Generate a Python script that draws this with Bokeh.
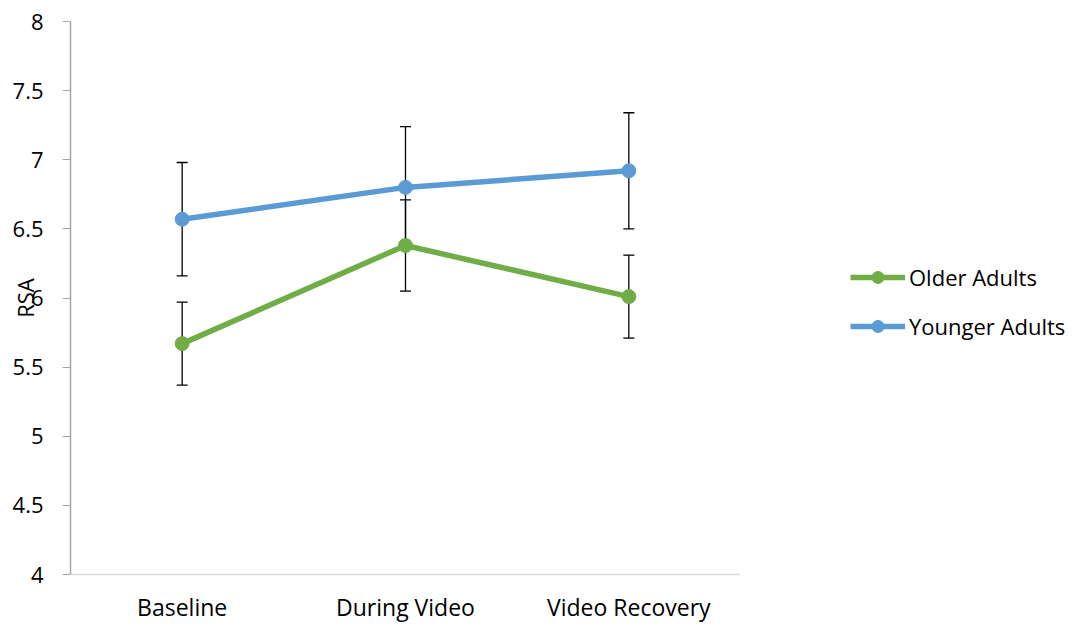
from bokeh.plotting import figure
from bokeh.layouts import row
from bokeh.models import (ColumnDataSource, Whisker, Legend, LegendItem, FixedTicker,
                          NumeralTickFormatter, TeeHead)
from bokeh.embed import file_html
from bokeh.resources import INLINE

categories = ["Baseline", "During Video", "Video Recovery"]
older = [5.67, 6.38, 6.01]
older_err = [0.30, 0.33, 0.30]
younger = [6.57, 6.80, 6.92]
younger_err = [0.41, 0.44, 0.42]
y_ticks = [4, 4.5, 5, 5.5, 6, 6.5, 7, 7.5, 8]
series_names = ["Older Adults", "Younger Adults"]

GREEN = "#70AD47"
BLUE = "#5B9BD5"
FONT = "Open Sans"
TXT = "#000000"

p = figure(x_range=categories, y_range=(4, 8), width=740, height=626,
           output_backend="svg", toolbar_location=None,
           min_border_left=70, min_border_right=0, min_border_top=21, min_border_bottom=52)
p.outline_line_color = None
p.xgrid.visible = False
p.ygrid.visible = False

for vals, errs in [(older, older_err), (younger, younger_err)]:
    src = ColumnDataSource(dict(x=categories, y=vals,
                                lo=[v - e for v, e in zip(vals, errs)],
                                hi=[v + e for v, e in zip(vals, errs)]))
    w = Whisker(source=src, base="x", lower="lo", upper="hi", line_color="black", line_width=1.3,
                upper_head=TeeHead(size=11, line_color="black", line_width=1.3),
                lower_head=TeeHead(size=11, line_color="black", line_width=1.3))
    p.add_layout(w)

p.line(categories, older, line_color=GREEN, line_width=5.5)
p.scatter(categories, older, size=14, fill_color=GREEN, line_color=GREEN)
p.line(categories, younger, line_color=BLUE, line_width=5.5)
p.scatter(categories, younger, size=14, fill_color=BLUE, line_color=BLUE)

# Y axis
ya = p.yaxis[0]
ya.ticker = FixedTicker(ticks=y_ticks)
ya.formatter = NumeralTickFormatter(format="0.[0]")
ya.axis_line_color = "#A6A6A6"
ya.axis_line_width = 1.5
ya.major_tick_line_color = "#A6A6A6"
ya.major_tick_line_width = 1.2
ya.major_tick_out = 8
ya.major_tick_in = 0
ya.minor_tick_line_color = None
ya.major_label_text_font = FONT
ya.major_label_text_font_size = "22px"
ya.major_label_text_color = TXT
ya.major_label_standoff = 19
ya.axis_label = "RSA"
ya.axis_label_text_font = FONT
ya.axis_label_text_font_size = "22px"
ya.axis_label_text_font_style = "normal"
ya.axis_label_text_color = TXT
ya.axis_label_standoff = -30

# X axis
xa = p.xaxis[0]
xa.axis_line_color = "#D9D9D9"
xa.axis_line_width = 1.5
xa.major_tick_line_color = None
xa.major_tick_out = 0
xa.minor_tick_line_color = None
xa.major_label_text_font = FONT
xa.major_label_text_font_size = "23px"
xa.major_label_text_color = TXT
xa.major_label_standoff = 16

# Legend panel (separate figure to the right of the plot area)
lg = figure(x_range=categories, y_range=(4, 8), width=342, height=626,
            output_backend="svg", toolbar_location=None,
            x_axis_location=None, y_axis_location=None,
            min_border_left=0, min_border_right=0, min_border_top=0, min_border_bottom=0)
lg.outline_line_color = None
lg.xgrid.visible = False
lg.ygrid.visible = False

items = []
for name, vals, color in [(series_names[0], older, GREEN), (series_names[1], younger, BLUE)]:
    rl = lg.line(categories, vals, line_color=color, line_width=5.5, visible=False)
    rc = lg.scatter(categories, vals, size=14, fill_color=color, line_color=color, visible=False)
    items.append(LegendItem(label=name, renderers=[rl, rc]))

legend = Legend(items=items, location=(110, 233), padding=0, margin=0, spacing=19,
                glyph_width=55, glyph_height=30, label_height=30, label_standoff=4,
                label_text_font=FONT, label_text_font_size="22px", label_text_color=TXT,
                border_line_color=None, background_fill_alpha=0)
lg.add_layout(legend)

layout = row(p, lg, spacing=0)
open("out.html", "w").write(file_html(layout, INLINE))
